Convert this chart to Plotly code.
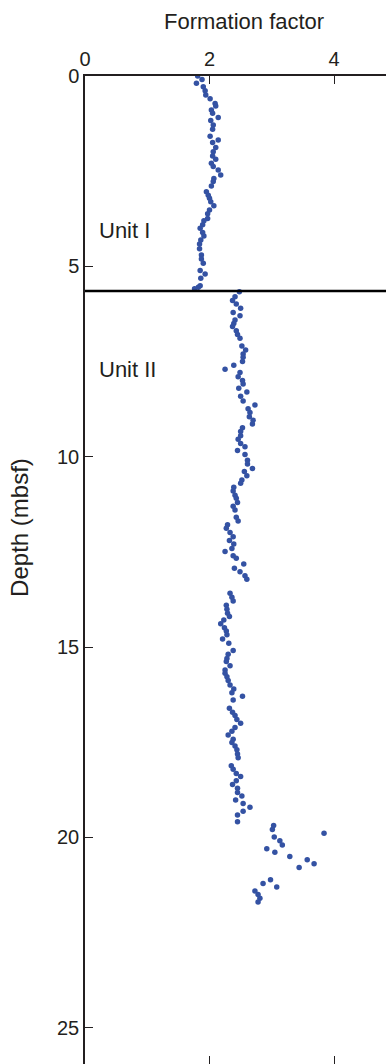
import plotly.graph_objects as go

# Formation factor vs depth (mbsf)
depth_unit1 = [0.00, 0.09, 0.19, 0.28, 0.39, 0.50, 0.60, 0.72, 0.79, 0.89, 0.98, 1.09, 1.17, 1.29,
               1.40, 1.58, 1.68, 1.75, 1.88, 1.99, 2.10, 2.19, 2.29, 2.38, 2.47, 2.60, 2.69, 2.77,
               2.89, 3.04, 3.13, 3.21, 3.30, 3.41, 3.52, 3.62, 3.74, 3.80, 3.91, 4.00, 4.11, 4.20,
               4.31, 4.41, 4.54, 4.70, 4.81, 4.92, 5.11, 5.20, 5.31, 5.51, 5.55, 5.59]
ff_unit1 = [1.81, 1.88, 1.79, 1.90, 1.93, 1.94, 2.01, 2.09, 2.10, 2.03, 2.05, 2.14, 2.02, 2.06,
            2.05, 2.01, 2.14, 2.05, 2.10, 2.06, 2.05, 2.10, 2.03, 2.06, 2.14, 2.18, 2.07, 2.06,
            2.03, 1.95, 1.98, 2.00, 2.02, 2.07, 2.00, 1.97, 1.97, 1.91, 1.89, 1.85, 1.89, 1.91,
            1.86, 1.84, 1.84, 1.87, 1.87, 1.90, 1.85, 1.93, 1.86, 1.85, 1.82, 1.76]

depth_unit2 = [5.67, 5.80, 5.90, 5.99, 6.10, 6.21, 6.30, 6.41, 6.50, 6.58, 6.69, 6.79, 6.89, 7.09,
               7.20, 7.30, 7.39, 7.50, 7.60, 7.70, 7.79, 7.90, 8.00, 8.09, 8.20, 8.30, 8.41, 8.54,
               8.64, 8.74, 8.84, 8.95, 9.04, 9.14, 9.24, 9.34, 9.45, 9.54, 9.65, 9.74, 9.84, 9.94,
               10.09, 10.19, 10.31, 10.39, 10.50, 10.61, 10.70, 10.80, 10.90, 11.01, 11.09, 11.20,
               11.30, 11.40, 11.59, 11.69, 11.79, 11.88, 11.99, 12.10, 12.20, 12.29, 12.41, 12.49,
               12.60, 12.67, 12.82, 12.93, 13.02, 13.13, 13.22, 13.59, 13.69, 13.79, 13.90, 14.01,
               14.11, 14.20, 14.29, 14.39, 14.49, 14.58, 14.68, 14.79, 14.90, 15.09, 15.19, 15.30,
               15.38, 15.49, 15.60, 15.69, 15.78, 15.88, 16.00, 16.10, 16.20, 16.29, 16.39, 16.61,
               16.71, 16.80, 16.90, 17.00, 17.11, 17.21, 17.31, 17.42, 17.51, 17.60, 17.70, 17.81,
               17.91, 18.12, 18.21, 18.32, 18.40, 18.51, 18.61, 18.71, 18.82, 18.91, 19.02, 19.11,
               19.21, 19.31, 19.41, 19.59, 19.69, 19.79, 19.89, 19.99, 20.09, 20.20, 20.30, 20.39,
               20.50, 20.59, 20.69, 20.79, 21.11, 21.21, 21.30, 21.41, 21.50, 21.60, 21.70]
ff_unit2 = [2.48, 2.41, 2.37, 2.43, 2.50, 2.38, 2.49, 2.41, 2.39, 2.37, 2.43, 2.45, 2.49, 2.52,
            2.58, 2.54, 2.54, 2.53, 2.39, 2.25, 2.49, 2.46, 2.53, 2.54, 2.47, 2.60, 2.50, 2.54,
            2.73, 2.62, 2.65, 2.64, 2.70, 2.69, 2.53, 2.50, 2.50, 2.46, 2.50, 2.57, 2.45, 2.57,
            2.61, 2.61, 2.69, 2.56, 2.60, 2.52, 2.50, 2.39, 2.38, 2.41, 2.43, 2.45,
            2.38, 2.41, 2.43, 2.46, 2.29, 2.27, 2.33, 2.38, 2.32, 2.39, 2.36, 2.25,
            2.38, 2.43, 2.55, 2.40, 2.49, 2.57, 2.60, 2.33, 2.36, 2.38, 2.27, 2.28,
            2.29, 2.32, 2.23, 2.18, 2.24, 2.27, 2.28, 2.21, 2.31, 2.38, 2.30, 2.28,
            2.27, 2.33, 2.25, 2.25, 2.28, 2.30, 2.33, 2.39, 2.36, 2.53, 2.38, 2.32,
            2.37, 2.41, 2.44, 2.50, 2.41, 2.36, 2.30, 2.38, 2.36, 2.41, 2.44, 2.45,
            2.46, 2.35, 2.38, 2.43, 2.50, 2.43, 2.37, 2.45, 2.45, 2.52, 2.42, 2.54,
            2.65, 2.54, 2.45, 2.45, 3.03, 3.01, 3.84, 3.04, 3.13, 3.17, 2.92, 3.05,
            3.29, 3.57, 3.68, 3.44, 2.98, 2.86, 3.08, 2.73, 2.78, 2.81, 2.78]

unit_boundary = 5.65
x_ticks = [0, 2, 4]
y_ticks = [0, 5, 10, 15, 20, 25]
unit_labels = ["Unit I", "Unit II"]
unit_label_depths = [4.05, 7.72]

FONT = "Liberation Sans, Arial, Helvetica, sans-serif"
TXT = "#231f20"
DOT = "#3452a3"

W, H = 386, 1064
ML, MT = 85, 76
px_per_x = 62.25
px_per_y = 38.07
x_max = (W - ML) / px_per_x
y_max = (H - MT) / px_per_y

fig = go.Figure()
fig.add_trace(go.Scatter(x=ff_unit1 + ff_unit2, y=depth_unit1 + depth_unit2, mode="markers",
                         marker=dict(color=DOT, size=5.5, line=dict(width=0)),
                         showlegend=False, hoverinfo="x+y"))
fig.add_trace(go.Scatter(x=[], y=[], xaxis="x2", showlegend=False))

fig.add_shape(type="line", xref="paper", x0=0, x1=1, yref="y", y0=unit_boundary, y1=unit_boundary,
              line=dict(color="black", width=2.5))

for lab, d in zip(unit_labels, unit_label_depths):
    fig.add_annotation(x=0, xref="paper", xshift=12, xanchor="left", y=d, yref="y",
                       text=lab, showarrow=False, font=dict(size=22, color=TXT, family=FONT))

fig.add_annotation(text="Formation factor", x=2.55, xref="x", y=1, yref="paper", yanchor="middle",
                   yshift=55, showarrow=False, font=dict(size=22, color=TXT, family=FONT))
fig.add_annotation(text="Depth (mbsf)", textangle=-90, x=0, xref="paper", xshift=-65, xanchor="center",
                   y=11.87, yref="y", showarrow=False, font=dict(size=24, color=TXT, family=FONT))

fig.update_layout(
    width=W, height=H,
    margin=dict(l=ML, r=0, t=MT, b=0, pad=0),
    plot_bgcolor="white", paper_bgcolor="white",
    font=dict(family=FONT, size=20, color=TXT),
    xaxis=dict(side="top", range=[0, x_max], tickvals=x_ticks, ticks="inside", ticklen=8,
               tickwidth=1.2, tickcolor="#231f20", showline=True, linecolor="#231f20", linewidth=1.5,
               showgrid=False, zeroline=False, tickfont=dict(size=20)),
    xaxis2=dict(overlaying="x", side="bottom", anchor="y", range=[0, x_max], tickvals=x_ticks,
                ticks="inside", ticklen=8, tickwidth=1.2, tickcolor="#231f20", showticklabels=False,
                showline=False, showgrid=False, zeroline=False),
    yaxis=dict(range=[y_max, 0], tickvals=y_ticks, ticks="inside", ticklen=8, tickwidth=1.2,
               tickcolor="#231f20", showline=True, linecolor="#231f20", linewidth=1.5,
               showgrid=False, zeroline=False, tickfont=dict(size=20)),
)

fig.write_html("out.html", config={"displayModeBar": False},
               post_script="document.body.style.margin='0';document.body.style.overflow='hidden';")
